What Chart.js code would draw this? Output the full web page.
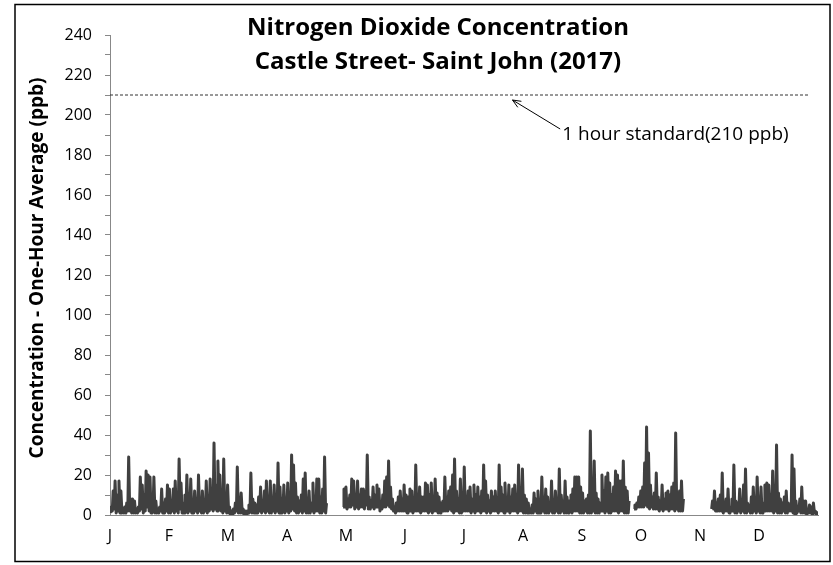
<!DOCTYPE html>
<html>
<head>
<meta charset="utf-8">
<script src="https://cdn.jsdelivr.net/npm/chart.js@4.4.0/dist/chart.umd.min.js"></script>
<style>
  html, body { margin: 0; padding: 0; background: #fff; }
</style>
</head>
<body>
<canvas id="no2Chart" width="833" height="565"></canvas>
<script>
// ==================== DATA ====================

const monthLetters = ['J', 'F', 'M', 'A', 'M', 'J', 'J', 'A', 'S', 'O', 'N', 'D'];
const hoursPerLabel = 744;      // Excel category axis: one label every 744 hours
const hoursInYear = 8760;
const standardValue = 210;      // 1 hour standard (ppb)
const standardText = '1 hour standard(210 ppb)';

// daily peak hourly value (ppb), null = no data
const dailyMax = [
    // Jan
    4, 12, 17, 10, 17, 12, 3, 4, 6, 29, 8, 8, 7, 3, 4, 19, 15, 10, 22, 20, 19, 9, 19, 7, 3, 4, 13, 6, 8, 15, 13,
    // Feb
    5, 13, 17, 8, 28, 16, 6, 10, 20, 7, 18, 6, 12, 5, 20, 8, 12, 5, 17, 9, 18, 12, 36, 15, 27, 20, 9, 28,
    // Mar
    10, 15, 4, 2, 3, 6, 24, 9, 11, 3, 2, 2, 5, 21, 8, 6, 5, 9, 14, 7, 12, 17, 9, 17, 6, 15, 9, 26, 14, 8, 15,
    // Apr
    7, 16, 10, 30, 25, 16, 9, 7, 10, 18, 21, 8, 12, 6, 16, 8, 18, 18, 9, 13, 29, 6, null, null, null, null, null, null, null, null,
    // May
    13, 14, 8, 10, 18, 17, 9, 17, 10, 13, 13, 12, 30, 9, 7, 14, 10, 15, 13, 5, 10, 17, 19, 27, 14, 8, 4, 6, 9, 12, 8,
    // Jun
    15, 10, 9, 13, 12, 8, 25, 10, 14, 9, 9, 16, 15, 10, 16, 7, 18, 11, 9, 6, 7, 19, 9, 12, 14, 20, 28, 12, 8, 18,
    // Jul
    4, 24, 9, 12, 14, 8, 15, 10, 14, 9, 12, 25, 17, 10, 7, 12, 9, 12, 8, 25, 14, 10, 16, 8, 15, 9, 13, 15, 8, 25, 12,
    // Aug
    23, 10, 8, 6, 3, 5, 11, 8, 12, 5, 19, 9, 13, 9, 6, 17, 7, 12, 8, 23, 10, 7, 17, 9, 7, 10, 13, 19, 19, 19, 14,
    // Sep
    11, 7, 8, 10, 42, 14, 27, 11, 8, 6, 20, 12, 19, 21, 16, 10, 14, 22, 20, 17, 17, 27, 14, 12, 7, null, null, 5, 6, 9,
    // Oct
    12, 14, 26, 44, 31, 15, 9, 11, 21, 9, 7, 15, 8, 11, 12, 10, 14, 16, 41, 9, 12, 17, 8, null, null, null, null, null, null, null, null,
    // Nov
    null, null, null, null, null, null, 7, 12, 6, 8, 10, 21, 5, 8, 13, 4, 8, 25, 7, 6, 13, 7, 15, 23, 6, 5, 9, 14, 7, 19,
    // Dec
    9, 14, 6, 15, 16, 15, 10, 22, 12, 35, 11, 8, 6, 9, 12, 6, 4, 30, 23, 7, 3, 8, 14, 7, 7, 2, 5, 4, 6, 2, 2
];

// daily lowest hourly value (ppb), null = no data
const dailyMin = [
    // Jan
    1, 2, 3, 1, 2, 1, 1, 1, 1, 2, 2, 1, 1, 1, 1, 2, 3, 1, 2, 4, 2, 1, 2, 1, 1, 1, 2, 1, 1, 2, 1,
    // Feb
    1, 2, 1, 2, 1, 3, 1, 1, 2, 1, 2, 1, 1, 2, 1, 2, 1, 1, 2, 1, 2, 3, 2, 3, 2, 4, 2, 1,
    // Mar
    2, 1, 1, 0, 0, 1, 2, 1, 1, 1, 0, 0, 1, 2, 1, 1, 1, 1, 2, 1, 2, 1, 2, 1, 1, 2, 1, 2, 1, 1, 2,
    // Apr
    1, 2, 1, 2, 3, 2, 1, 1, 2, 1, 2, 1, 1, 1, 2, 1, 2, 2, 1, 1, 2, 1, null, null, null, null, null, null, null, null,
    // May
    4, 4, 3, 4, 4, 5, 3, 4, 3, 4, 4, 3, 5, 3, 3, 4, 3, 4, 4, 2, 3, 4, 4, 5, 4, 3, 2, 1, 2, 2, 2,
    // Jun
    2, 2, 1, 2, 2, 1, 2, 2, 2, 1, 2, 2, 2, 1, 2, 1, 2, 2, 1, 1, 2, 2, 2, 2, 3, 2, 1, 2, 2, 1,
    // Jul
    1, 2, 2, 2, 2, 1, 2, 1, 2, 2, 1, 2, 2, 1, 2, 1, 2, 2, 2, 1, 2, 2, 1, 2, 2, 1, 2, 2, 2, 1, 2,
    // Aug
    2, 1, 1, 1, 1, 1, 1, 2, 1, 1, 1, 2, 1, 1, 1, 2, 1, 1, 2, 1, 1, 2, 1, 1, 1, 2, 1, 2, 2, 2, 1,
    // Sep
    1, 1, 2, 1, 1, 1, 2, 1, 1, 1, 2, 2, 1, 2, 1, 1, 2, 2, 2, 1, 2, 2, 1, 1, 1, null, null, 3, 3, 4,
    // Oct
    4, 4, 4, 5, 4, 3, 4, 3, 3, 3, 2, 3, 2, 3, 3, 2, 3, 3, 2, 3, 2, 2, 2, null, null, null, null, null, null, null, null,
    // Nov
    null, null, null, null, null, null, 3, 3, 2, 2, 2, 2, 1, 2, 2, 1, 2, 2, 1, 1, 2, 1, 2, 1, 1, 2, 1, 1, 2, 1,
    // Dec
    2, 1, 1, 2, 2, 2, 2, 2, 1, 2, 1, 1, 1, 2, 1, 1, 2, 2, 1, 0, 1, 2, 1, 1, 1, 0, 1, 1, 0, 1, 0
];

// ==================== BUILD SERIES ====================

const hourly = [];
dailyMax.forEach((hi, d) => {
    if (hi === null) {
        hourly.push({ x: d * 24 + 12, y: null });
        return;
    }
    hourly.push({ x: d * 24 + 4, y: dailyMin[d] });
    hourly.push({ x: d * 24 + 15, y: hi });
});

const FONT = "'Open Sans', 'DejaVu Sans', sans-serif";

// ==================== DECORATION PLUGIN ====================

const decorations = {
    id: 'decorations',
    afterDraw(chart) {
        const ctx = chart.ctx;
        const xs = chart.scales.x;
        const ys = chart.scales.y;
        ctx.save();

        // outer frame
        ctx.strokeStyle = '#000';
        ctx.lineWidth = 1.5;
        ctx.strokeRect(15, 4.5, 815, 557);

        // title
        ctx.fillStyle = '#000';
        ctx.textAlign = 'center';
        ctx.textBaseline = 'middle';
        ctx.font = 'bold 24px ' + FONT;
        ctx.fillText('Nitrogen Dioxide Concentration', 438, 28);
        ctx.fillText('Castle Street- Saint John (2017)', 438, 62);

        // y axis title
        ctx.save();
        ctx.translate(38, 268);
        ctx.rotate(-Math.PI / 2);
        ctx.font = 'bold 19px ' + FONT;
        ctx.fillText('Concentration - One-Hour Average (ppb)', 0, 0);
        ctx.restore();

        // arrow + note for the standard
        const tipX = xs.getPixelForValue(4980), tipY = ys.getPixelForValue(207.5);
        const tailX = xs.getPixelForValue(5570), tailY = ys.getPixelForValue(193);
        ctx.strokeStyle = '#000';
        ctx.lineWidth = 1;
        ctx.beginPath();
        ctx.moveTo(tailX, tailY);
        ctx.lineTo(tipX, tipY);
        const ang = Math.atan2(tailY - tipY, tailX - tipX);
        ctx.moveTo(tipX + 9 * Math.cos(ang - 0.4), tipY + 9 * Math.sin(ang - 0.4));
        ctx.lineTo(tipX, tipY);
        ctx.lineTo(tipX + 9 * Math.cos(ang + 0.4), tipY + 9 * Math.sin(ang + 0.4));
        ctx.stroke();

        ctx.textAlign = 'left';
        ctx.font = '19px ' + FONT;
        ctx.fillText(standardText, tailX + 2, ys.getPixelForValue(190));
        ctx.restore();
    }
};

// ==================== CHART ====================

const ctx = document.getElementById('no2Chart').getContext('2d');

new Chart(ctx, {
    type: 'line',
    data: {
        datasets: [
            {
                label: 'NO2',
                data: hourly,
                borderColor: '#404040',
                borderWidth: 3,
                borderJoinStyle: 'round',
                pointRadius: 0,
                spanGaps: false,
                tension: 0
            },
            {
                label: 'Standard',
                data: [{ x: 0, y: standardValue }, { x: 8640, y: standardValue }],
                borderColor: '#333',
                borderWidth: 1,
                borderDash: [3, 2],
                pointRadius: 0
            }
        ]
    },
    options: {
        responsive: false,
        animation: false,
        layout: { padding: { top: 35, right: 15, bottom: 0, left: 0 } },
        plugins: {
            legend: { display: false },
            tooltip: { enabled: false }
        },
        scales: {
            x: {
                type: 'linear',
                min: 0,
                max: hoursInYear,
                afterFit: (s) => { s.height = 50; },
                grid: { drawOnChartArea: false, drawTicks: false },
                border: { color: '#888', width: 1 },
                ticks: {
                    stepSize: hoursPerLabel,
                    includeBounds: false,
                    autoSkip: false,
                    maxRotation: 0,
                    padding: 12,
                    color: '#000',
                    font: { family: FONT, size: 16 },
                    callback: (v) => monthLetters[Math.round(v / hoursPerLabel)] || ''
                }
            },
            y: {
                min: 0,
                max: 240,
                afterFit: (s) => { s.width = 110; },
                grid: { drawOnChartArea: false, tickLength: 5, color: '#888' },
                border: { color: '#888', width: 1 },
                ticks: {
                    stepSize: 10,
                    autoSkip: false,
                    padding: 13,
                    color: '#000',
                    font: { family: FONT, size: 16 },
                    callback: (v) => (v % 20 === 0 ? v : '')
                }
            }
        }
    },
    plugins: [decorations]
});
</script>
</body>
</html>
